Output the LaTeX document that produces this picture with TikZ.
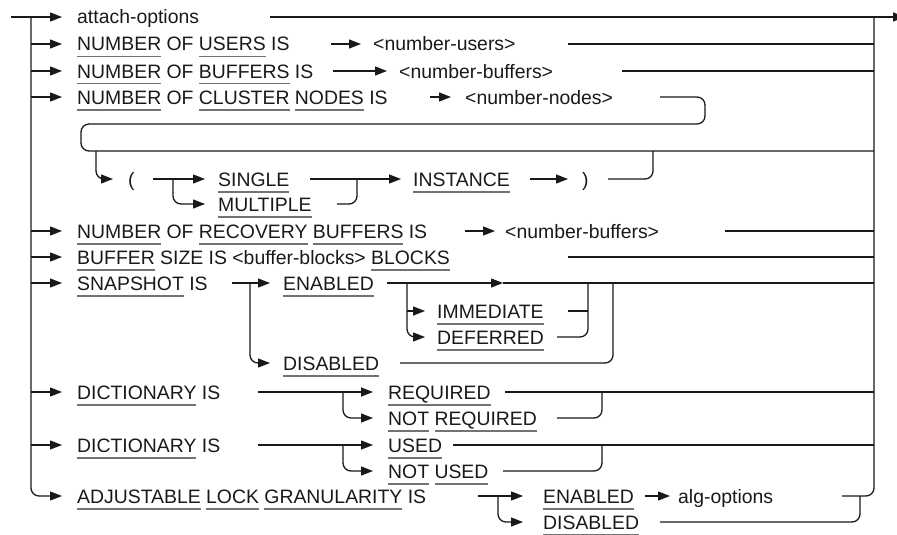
\documentclass[tikz,border=0pt]{standalone}
\usepackage{fontspec}
\setmainfont{Liberation Sans}
\usetikzlibrary{arrows.meta}
\definecolor{ink}{gray}{0.1}
\definecolor{uline}{gray}{0.45}
\newcommand\ukw[1]{\setbox0\hbox{#1}\rlap{\textcolor{uline}{\rule[-6.5pt]{\wd0}{1.4pt}}}\box0\relax}
\tikzset{
 rr/.style={line width=1.3pt, draw=ink, rounded corners=8pt},
 ar/.style={rr, -{Triangle[length=12pt,width=9pt]}},
 lbl/.style={anchor=base west, inner sep=0pt, text=ink, font=\fontsize{19.4}{23}\selectfont}
}
\begin{document}
\begin{tikzpicture}[x=1pt,y=-1pt]
\useasboundingbox (0,0) rectangle (897,535);
% texts
\node[lbl] (attach) at (77,24) {attach-options};
\node[lbl] (users) at (77,51) {\ukw{NUMBER} OF \ukw{USERS} IS};
\node[lbl] (nusers) at (373,51) {<number-users>};
\node[lbl] (buffers) at (77,78) {\ukw{NUMBER} OF \ukw{BUFFERS} IS};
\node[lbl] (nbuffers) at (399,78) {<number-buffers>};
\node[lbl] (cluster) at (77,104) {\ukw{NUMBER} OF \ukw{CLUSTER} \ukw{NODES} IS};
\node[lbl] (nnodes) at (465,104) {<number-nodes>};
\node[lbl] (lpar) at (128,186) {(};
\node[lbl] (single) at (218,186) {\ukw{SINGLE}};
\node[lbl] (multiple) at (218,211) {\ukw{MULTIPLE}};
\node[lbl] (instance) at (413,186) {\ukw{INSTANCE}};
\node[lbl] (rpar) at (582,186) {)};
\node[lbl] (recovery) at (77,238) {\ukw{NUMBER} OF \ukw{RECOVERY} \ukw{BUFFERS} IS};
\node[lbl] (nrbuf) at (505,238) {<number-buffers>};
\node[lbl] (bsize) at (77,264) {\ukw{BUFFER} SIZE IS <buffer-blocks> \ukw{BLOCKS}};
\node[lbl] (snap) at (77,290) {\ukw{SNAPSHOT} IS};
\node[lbl] (senabled) at (283,290) {\ukw{ENABLED}};
\node[lbl] (immediate) at (437,318) {\ukw{IMMEDIATE}};
\node[lbl] (deferred) at (437,344) {\ukw{DEFERRED}};
\node[lbl] (sdisabled) at (283,370) {\ukw{DISABLED}};
\node[lbl] (dict1) at (77,399) {\ukw{DICTIONARY} IS};
\node[lbl] (required) at (388,399) {\ukw{REQUIRED}};
\node[lbl] (notreq) at (388,425) {\ukw{NOT} \ukw{REQUIRED}};
\node[lbl] (dict2) at (77,452) {\ukw{DICTIONARY} IS};
\node[lbl] (used) at (388,452) {\ukw{USED}};
\node[lbl] (notused) at (388,478) {\ukw{NOT} \ukw{USED}};
\node[lbl] (adjust) at (77,503) {\ukw{ADJUSTABLE} \ukw{LOCK} \ukw{GRANULARITY} IS};
\node[lbl] (aenabled) at (543,503) {\ukw{ENABLED}};
\node[lbl] (algopt) at (678,503) {alg-options};
\node[lbl] (adisabled) at (543,529) {\ukw{DISABLED}};
% trunks
\coordinate (in) at (11,17);
\coordinate (ltop) at (31,17);
\coordinate (out) at (905,17);
\draw[ar] (in) -- (62,17);
\draw[ar] (ltop) |- (62,496);
\foreach \y in {44,71,97,231,257,283,392,445} \draw[ar] (31,\y) -- (62,\y);
\draw[ar] (270,17) -- (out);
\draw[rr] (842,496) -| (874,17);
% row 2-3
\draw[ar] (331,44) -- (361,44);
\draw[rr] (568,44) -- (874,44);
\draw[ar] (333,71) -- (387,71);
\draw[rr] (622,71) -- (874,71);
% row 4 and loop
\draw[ar] (430,97) -- (451,97);
\draw[rr] (660,97) -| (705,124) -| (81,151) -- (874,151);
\draw[ar] (96,151) |- (113,179);
\draw[ar] (153,179) -- (205,179);
\draw[ar] (173,179) |- (205,204);
\draw[ar] (310,179) -- (401,179);
\draw[rr] (337,204) -| (357,179);
\draw[ar] (530,179) -- (568,179);
\draw[rr] (608,179) -| (653,151);
% row 5-6
\draw[ar] (465,231) -- (495,231);
\draw[rr] (725,231) -- (874,231);
\draw[rr] (568,257) -- (874,257);
% snapshot
\draw[ar] (232,283) -- (270,283);
\draw[ar] (250,283) |- (270,363);
\draw[ar] (387,283) -- (503,283);
\draw[rr] (503,283) -- (874,283);
\draw[ar] (407,283) |- (425,337);
\draw[ar] (407,311) -- (425,311);
\draw[rr] (568,311) -- (588,311);
\draw[rr] (557,337) -| (588,283);
\draw[rr] (400,363) -| (613,283);
% dictionary 1
\draw[ar] (258,392) -- (373,392);
\draw[ar] (343,392) |- (373,418);
\draw[rr] (505,392) -- (874,392);
\draw[rr] (557,418) -| (602,392);
% dictionary 2
\draw[ar] (258,445) -- (373,445);
\draw[ar] (343,445) |- (373,471);
\draw[rr] (453,445) -- (874,445);
\draw[rr] (503,471) -| (602,445);
% adjustable
\draw[ar] (478,496) -- (523,496);
\draw[ar] (498,496) |- (523,522);
\draw[ar] (645,496) -- (670,496);
\draw[rr] (660,522) -| (860,496);
\end{tikzpicture}
\end{document}
